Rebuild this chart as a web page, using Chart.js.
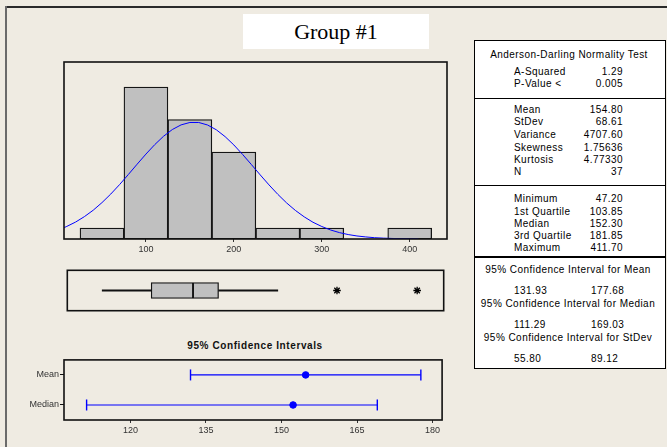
<!DOCTYPE html>
<html><head><meta charset="utf-8">
<script src="https://cdn.jsdelivr.net/npm/chart.js@4.4.1/dist/chart.umd.min.js"></script>
<style>
html,body{margin:0;padding:0;}
body{width:667px;height:447px;background:#EFEBE2;position:relative;overflow:hidden;font-family:"Liberation Sans",Arial,sans-serif;}
.abs{position:absolute;}
canvas{position:absolute;}
#topline{left:5px;top:6px;width:662px;height:2px;background:#2a2a2a;}
#leftline{left:5px;top:6px;width:2px;height:441px;background:#6a6a6a;}
#titlebox{left:243px;top:14px;width:186px;height:35px;background:#fff;font-family:"Liberation Serif","Times New Roman",serif;font-size:22px;text-align:center;line-height:35px;color:#000;}
#stats{left:474px;top:40px;width:192px;height:329px;background:#fff;border:1px solid #000;box-sizing:border-box;}
.t{position:absolute;font-size:10px;line-height:12px;letter-spacing:0.45px;color:#000;white-space:nowrap;}
.hr{position:absolute;left:474px;width:192px;height:1.5px;background:#000;}
#cititle{left:155px;top:339px;width:200px;text-align:center;font-weight:bold;font-size:10px;letter-spacing:0.6px;line-height:14px;color:#111;}
</style>
</head><body>
<div id="topline" class="abs"></div>
<div id="leftline" class="abs"></div>
<div id="titlebox" class="abs">Group #1</div>
<div id="stats" class="abs"></div>
<div id="cititle" class="abs">95% Confidence Intervals</div>
<canvas id="hist" width="387" height="201" style="left:62px;top:60px;width:387px;height:201px"></canvas>
<canvas id="box" width="387" height="51" style="left:62px;top:265px;width:387px;height:51px"></canvas>
<canvas id="ci" width="439" height="94" style="left:10px;top:353px;width:439px;height:94px"></canvas>
<script>
// ---- data ----
const binCenters = [50, 100, 150, 200, 250, 300, 350, 400];
const binCounts  = [1, 14, 11, 8, 1, 1, 0, 1];
const histTicks  = [100, 200, 300, 400];
const curveX = [7, 10, 20, 30, 40, 50, 60, 70, 80, 90, 100, 110, 120, 130, 140, 150, 160, 170, 180, 190, 200, 210, 220, 230, 240, 250, 260, 270, 280, 290, 300, 310, 320, 330, 340, 350, 360, 370, 380, 390, 400, 410];
const curveY = [1.05, 1.16, 1.56, 2.06, 2.65, 3.35, 4.14, 5.01, 5.94, 6.89, 7.82, 8.69, 9.46, 10.08, 10.51, 10.73, 10.73, 10.50, 10.06, 9.43, 8.66, 7.78, 6.85, 5.90, 4.98, 4.11, 3.32, 2.63, 2.04, 1.54, 1.15, 0.83, 0.59, 0.41, 0.28, 0.19, 0.12, 0.08, 0.05, 0.03, 0.02, 0.01];
const boxQuartiles = [103.85, 152.30, 181.85];
const whiskers = [47.20, 250.4];
const outliers = [318.9, 411.70];
const ciRows = ['Mean', 'Median'];
const ciLow  = [131.93, 111.29];
const ciHigh = [177.68, 169.03];
const ciEst  = [154.80, 152.30];
const ciTicks = [120, 135, 150, 165, 180];
const adLabels = ['A-Squared', 'P-Value <'];
const adValues = ['1.29', '0.005'];
const momLabels = ['Mean', 'StDev', 'Variance', 'Skewness', 'Kurtosis', 'N'];
const momValues = ['154.80', '68.61', '4707.60', '1.75636', '4.77330', '37'];
const qLabels = ['Minimum', '1st Quartile', 'Median', '3rd Quartile', 'Maximum'];
const qValues = ['47.20', '103.85', '152.30', '181.85', '411.70'];
const ciHeads = ['95% Confidence Interval for Mean', '95% Confidence Interval for Median', '95% Confidence Interval for StDev'];
const ciTableLow  = ['131.93', '111.29', '55.80'];
const ciTableHigh = ['177.68', '169.03', '89.12'];

// ---- stats table (text) ----
function addText(txt, y, opts) {
  const d = document.createElement('div');
  d.className = 't';
  d.textContent = txt;
  d.style.top = (y - 6) + 'px';
  if (opts.center !== undefined) { d.style.left = (opts.center - 100) + 'px'; d.style.width = '200px'; d.style.textAlign = 'center'; }
  else if (opts.right !== undefined) { d.style.left = (opts.right - 100) + 'px'; d.style.width = '100px'; d.style.textAlign = 'right'; }
  else d.style.left = opts.left + 'px';
  document.body.appendChild(d);
}
function addRule(y) { const d = document.createElement('div'); d.className = 'hr'; d.style.top = (y - 0.75) + 'px'; document.body.appendChild(d); }
addText('Anderson-Darling Normality Test', 55, {center: 569});
const adY = [72, 84];
adLabels.forEach((l, i) => { addText(l, adY[i], {left: 514}); addText(adValues[i], adY[i], {right: 623}); });
addRule(98.5);
const momY = [110, 122.3, 135, 147.6, 160, 172.3];
momLabels.forEach((l, i) => { addText(l, momY[i], {left: 514}); addText(momValues[i], momY[i], {right: 623}); });
addRule(185.5);
const qY = [199, 211.5, 223.8, 235.6, 247.6];
qLabels.forEach((l, i) => { addText(l, qY[i], {left: 514}); addText(qValues[i], qY[i], {right: 623}); });
addRule(257);
const headY = [270, 304, 338];
const valY = [291, 325, 358.5];
ciHeads.forEach((h, i) => {
  addText(h, headY[i], {center: 568});
  addText(ciTableLow[i], valY[i], {left: 514});
  addText(ciTableHigh[i], valY[i], {left: 591});
});

// ---- charts ----
const FONT = '"Liberation Sans", Arial, sans-serif';
const framePlugin = {
  id: 'frame',
  afterDraw(chart) {
    const {ctx, chartArea: a} = chart;
    ctx.save();
    ctx.strokeStyle = '#111';
    ctx.lineWidth = 1.6;
    ctx.strokeRect(a.left, a.top, a.right - a.left, a.bottom - a.top);
    ctx.restore();
  }
};
const common = {
  animation: false, responsive: false, events: [],
  plugins: {legend: {display: false}, tooltip: {enabled: false}, title: {display: false}}
};

new Chart(document.getElementById('hist'), {
  type: 'bar',
  data: {datasets: [
    {type: 'line', data: curveX.map((x, i) => ({x: x, y: curveY[i]})), borderColor: '#0000FF', borderWidth: 1, pointRadius: 0, tension: 0, order: 0},
    {type: 'bar', data: binCenters.map((x, i) => ({x: x, y: binCounts[i]})), backgroundColor: '#C0C0C0', borderColor: '#151515', borderWidth: 1.3, borderSkipped: false, barPercentage: 1, categoryPercentage: 1, order: 1}
  ]},
  options: Object.assign({}, common, {
    layout: {padding: {left: 2, right: 2, top: 2, bottom: 2}},
    scales: {
      x: {type: 'linear', min: 6.8, max: 442.4, offset: false,
        afterBuildTicks: s => { s.ticks = histTicks.map(v => ({value: v})); },
        afterFit: s => { s.height = 20; },
        ticks: {color: '#333', font: {family: FONT, size: 9}, padding: 2, maxRotation: 0, autoSkip: false},
        grid: {display: true, offset: false, drawOnChartArea: false, drawTicks: true, tickLength: 3, color: '#333'},
        border: {display: false}},
      y: {display: false, min: 0, max: 16.3}
    }
  }),
  plugins: [framePlugin]
});

new Chart(document.getElementById('box'), {
  type: 'bar',
  data: {labels: ['box'], datasets: [
    {data: [[whiskers[0], boxQuartiles[0]]], backgroundColor: '#111', borderWidth: 0, barThickness: 1.3, grouped: false},
    {data: [[boxQuartiles[2], whiskers[1]]], backgroundColor: '#111', borderWidth: 0, barThickness: 1.3, grouped: false},
    {data: [[boxQuartiles[0], boxQuartiles[1]]], backgroundColor: '#C0C0C0', borderColor: '#151515', borderWidth: 1.3, borderSkipped: false, barThickness: 16, grouped: false},
    {data: [[boxQuartiles[1], boxQuartiles[2]]], backgroundColor: '#C0C0C0', borderColor: '#151515', borderWidth: 1.3, borderSkipped: false, barThickness: 16, grouped: false},
    {type: 'scatter', data: outliers.map(x => ({x: x, y: 'box'})), pointStyle: 'star', pointRadius: 3.8, borderColor: '#000', backgroundColor: '#000', borderWidth: 1.3}
  ]},
  options: Object.assign({}, common, {
    indexAxis: 'y',
    layout: {padding: {left: 2, right: 2, top: 2, bottom: 2}},
    scales: {
      x: {type: 'linear', min: 6.8, max: 442.4, display: false},
      y: {type: 'category', display: false, offset: true}
    }
  }),
  plugins: [framePlugin]
});

const ciDatasets = [];
ciRows.forEach((r, i) => {
  ciDatasets.push({data: [{x: ciLow[i], y: r}, {x: ciHigh[i], y: r}], showLine: true, borderColor: '#0000FF', borderWidth: 1.2,
    pointStyle: 'line', pointRotation: 90, pointRadius: 5.5, pointBorderWidth: 1.4, pointBorderColor: '#0000FF'});
});
ciRows.forEach((r, i) => {
  ciDatasets.push({data: [{x: ciEst[i], y: r}], pointStyle: 'circle', pointRadius: 3.3, backgroundColor: '#0000FF', borderColor: '#0000FF', borderWidth: 1});
});
new Chart(document.getElementById('ci'), {
  type: 'scatter',
  data: {datasets: ciDatasets},
  options: Object.assign({}, common, {
    layout: {padding: {left: 0, right: 2, top: 2, bottom: 0}},
    scales: {
      x: {type: 'linear', min: 106.8, max: 181.9,
        afterBuildTicks: s => { s.ticks = ciTicks.map(v => ({value: v})); },
        afterFit: s => { s.height = 27; },
        ticks: {color: '#333', font: {family: FONT, size: 9}, padding: 2, maxRotation: 0, autoSkip: false},
        grid: {display: true, drawOnChartArea: false, drawTicks: true, tickLength: 3, color: '#333'},
        border: {display: false}},
      y: {type: 'category', labels: ciRows, offset: true,
        afterFit: s => { s.width = 54; },
        ticks: {color: '#333', font: {family: FONT, size: 9}, padding: 1},
        grid: {display: true, drawOnChartArea: false, drawTicks: true, tickLength: 4, color: '#111'},
        border: {display: false}}
    }
  }),
  plugins: [framePlugin]
});
</script>
</body></html>
